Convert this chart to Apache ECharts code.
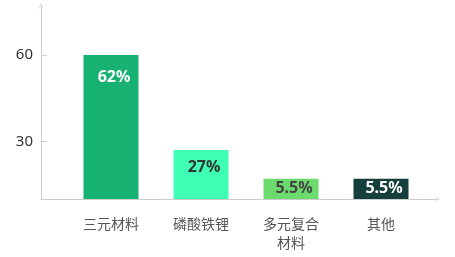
<!DOCTYPE html>
<html>
<head>
<meta charset="utf-8">
<style>
  html, body { margin: 0; padding: 0; background: #fff; }
  #chart { width: 455px; height: 257px; }
</style>
<script src="https://cdn.jsdelivr.net/npm/echarts@6.0.0/dist/echarts.min.js"></script>
</head>
<body>
<div id="chart"></div>
<script>
// Cathode material categories along the x axis
const categories = ['三元材料', '磷酸铁锂', '多元复合\n材料', '其他'];
// Drawn bar heights on the value axis
const barHeights = [60, 27, 17, 17];
// Market share printed on each bar
const shareLabels = ['62%', '27%', '5.5%', '5.5%'];
// Labelled ticks on the value axis
const yTicks = [30, 60];

const barColors = ['#17b271', '#3effb3', '#6bdb6d', '#143f3c'];
const labelColors = ['#ffffff', '#333333', '#444444', '#ffffff'];
const labelPlacement = [
  { position: 'insideTop', distance: 14 },
  { position: 'insideTop', distance: 9 },
  { position: 'inside' },
  { position: 'inside' }
];

const Y_MIN = 10, Y_MAX = 77;
const AXIS_GRAY = '#cccccc';
const chevron = 'path://M0,10 L5,0 L10,10 L8.8,10 L5,2.4 L1.2,10 Z';

const chart = echarts.init(document.getElementById('chart'), null, { renderer: 'canvas' });

chart.setOption({
  animation: false,
  backgroundColor: '#ffffff',
  grid: [
    // frame grid: carries the axis lines, arrows and value ticks
    { left: 41, right: 17.5, top: 6, bottom: 58 },
    // plotting grid: carries the bars and category names
    { left: 66, right: 29, top: 6, bottom: 58 }
  ],
  xAxis: [
    {
      gridIndex: 0, type: 'value', min: 0, max: 1,
      axisLine: {
        show: true, onZero: false,
        lineStyle: { color: AXIS_GRAY, width: 1 },
        symbol: ['none', chevron], symbolSize: [8, 5]
      },
      axisTick: { show: false }, axisLabel: { show: false }, splitLine: { show: false }
    },
    {
      gridIndex: 1, type: 'category', data: categories,
      axisLine: { show: false }, axisTick: { show: false }, splitLine: { show: false },
      axisLabel: {
        color: '#555555', fontSize: 14, lineHeight: 19, margin: 15,
        fontFamily: '"Noto Sans CJK SC", "Noto Sans", sans-serif'
      }
    }
  ],
  yAxis: [
    {
      gridIndex: 0, type: 'value', min: Y_MIN, max: Y_MAX,
      axisLine: {
        show: true, onZero: false,
        lineStyle: { color: AXIS_GRAY, width: 1 },
        symbol: ['none', chevron], symbolSize: [7, 5]
      },
      axisTick: {
        show: true, inside: true, length: 6,
        lineStyle: { color: AXIS_GRAY }, customValues: yTicks
      },
      axisLabel: {
        color: '#333333', fontSize: 15, margin: 8,
        fontFamily: '"Noto Sans", sans-serif', customValues: yTicks
      },
      splitLine: { show: false }
    },
    {
      gridIndex: 1, type: 'value', min: Y_MIN, max: Y_MAX, show: false,
      splitLine: { show: false }
    }
  ],
  series: [
    {
      type: 'bar',
      xAxisIndex: 1, yAxisIndex: 1,
      barWidth: 55,
      data: barHeights.map((v, i) => ({
        value: v,
        itemStyle: { color: barColors[i] },
        label: Object.assign({
          show: true,
          formatter: shareLabels[i],
          color: labelColors[i],
          fontSize: 16,
          fontWeight: 'bold',
          fontFamily: '"Noto Sans", sans-serif',
          offset: [3, 0]
        }, labelPlacement[i])
      }))
    }
  ]
});
</script>
</body>
</html>
